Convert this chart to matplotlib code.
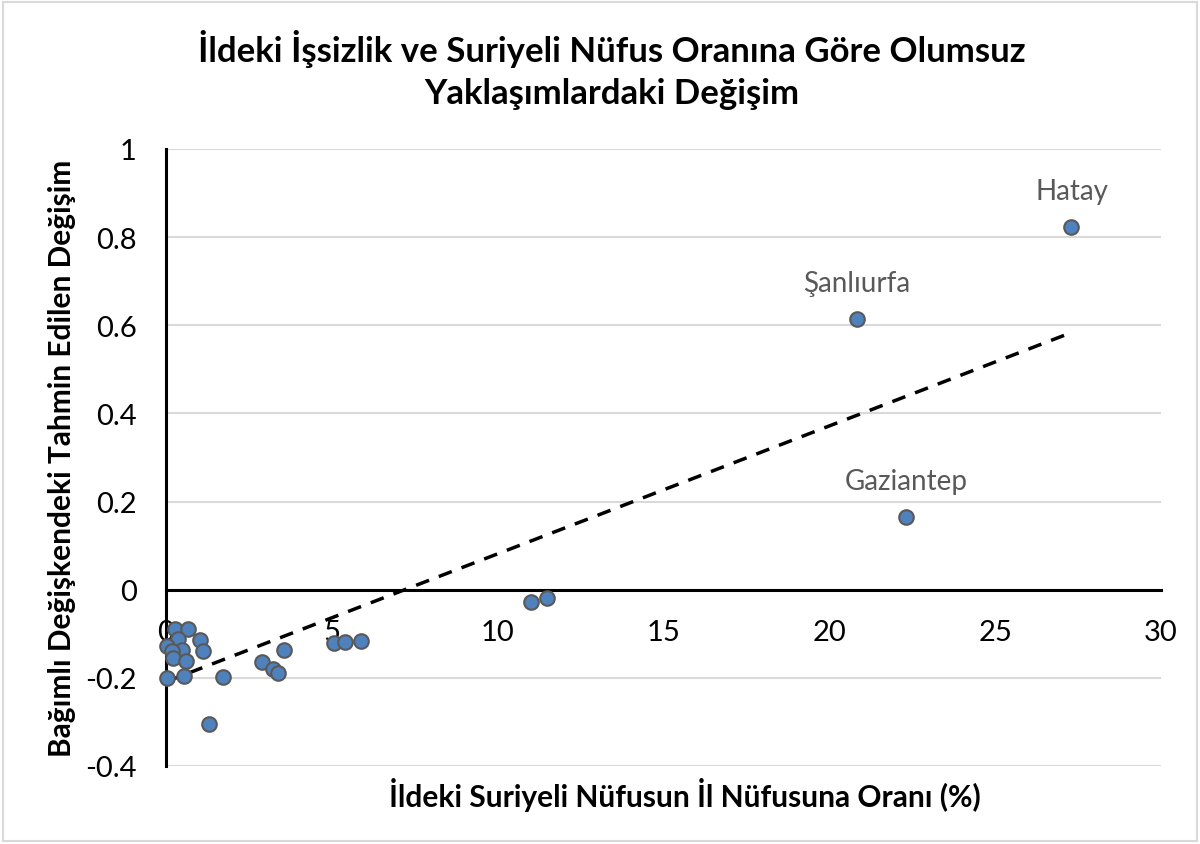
import numpy as np
import matplotlib
matplotlib.use('Agg')
from matplotlib import pyplot as plt
from matplotlib.patches import Rectangle

plt.rcParams['font.family'] = ['Lato', 'DejaVu Sans']

# ildeki suriyeli nufus orani (%) ve tahmin edilen degisim
oran = [0.27, 0.67, 0.35, 0.02, 1.02, 1.12, 0.47, 0.17, 0.22, 0.59,
        0.04, 0.54, 1.73, 1.31, 2.89, 3.22, 3.39, 3.57, 5.07, 5.40,
        5.87, 10.99, 11.48, 20.83, 22.31, 27.30]
degisim = [-0.089, -0.089, -0.111, -0.127, -0.114, -0.140, -0.136, -0.140, -0.154, -0.161,
           -0.201, -0.195, -0.198, -0.305, -0.163, -0.180, -0.189, -0.136, -0.121, -0.119,
           -0.116, -0.029, -0.019, 0.614, 0.164, 0.822]
etiketler = {23: 'Şanlıurfa', 24: 'Gaziantep', 25: 'Hatay'}

baslik = 'İldeki İşsizlik ve Suriyeli Nüfus Oranına Göre Olumsuz\nYaklaşımlardaki Değişim'
x_baslik = 'İldeki Suriyeli Nüfusun İl Nüfusuna Oranı (%)'
y_baslik = 'Bağımlı Değişkendeki Tahmin Edilen Değişim'

fig = plt.figure(figsize=(12, 8.45), dpi=100)
ax = fig.add_axes([166 / 1200, 1 - 767 / 845, 995 / 1200, 617 / 845])

ax.set_xlim(0, 30)
ax.set_ylim(-0.4, 1.0)
ax.set_yticks(np.arange(-0.4, 1.01, 0.2))
ax.set_yticklabels(['-0.4', '-0.2', '0', '0.2', '0.4', '0.6', '0.8', '1'])
ax.set_xticks([0, 5, 10, 15, 20, 25, 30])
ax.yaxis.grid(True, color='#d9d9d9', lw=1.5)
ax.set_axisbelow(True)

for s in ['top', 'right']:
    ax.spines[s].set_visible(False)
ax.spines['bottom'].set_position(('data', 0))
ax.spines['bottom'].set_linewidth(2.2)
ax.spines['left'].set_linewidth(2.2)
ax.tick_params(axis='both', length=0, labelsize=21)
ax.tick_params(axis='x', pad=21)
ax.tick_params(axis='y', pad=21)

# trend cizgisi (dogrusal)
egim, kesen = np.polyfit(oran, degisim, 1)
xt = np.array([min(oran), max(oran)])
ax.plot(xt, egim * xt + kesen, color='black', lw=2.5, ls=(0, (4, 3)), zorder=3)

ax.scatter(oran, degisim, s=110, color='#4f81bd', edgecolor='#595959', lw=1.5, zorder=4, clip_on=False)

for i, ad in etiketler.items():
    ax.annotate(ad, (oran[i], degisim[i]), xytext=(0, 17), textcoords='offset points',
                ha='center', va='bottom', fontsize=20, color='#595959')

fig.text(612 / 1200, 1 - 70 / 845, baslik, ha='center', va='center', fontsize=25,
         fontweight='bold', linespacing=1.35)
fig.text(685 / 1200, 1 - 795 / 845, x_baslik, ha='center', va='center', fontsize=21.5, fontweight='bold')
fig.text(62 / 1200, 1 - 458 / 845, y_baslik, ha='center', va='center', fontsize=21.5,
         fontweight='bold', rotation=90)

fig.patches.append(Rectangle((3 / 1200, 3 / 845), 1194 / 1200, 839 / 845, transform=fig.transFigure,
                             fill=False, edgecolor='#d9d9d9', lw=1.5))

fig.savefig('out.png', dpi=100)
